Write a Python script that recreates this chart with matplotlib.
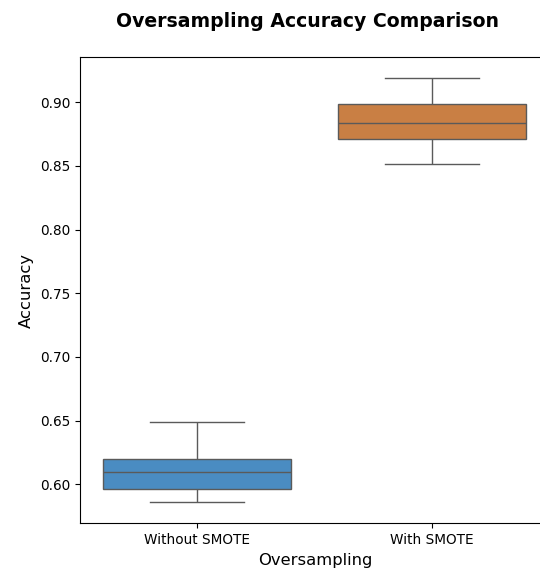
import pandas as pd
import seaborn as sns
from matplotlib import pyplot as plt

# five accuracy values per setting (min, q1, median, q3, max)
without_smote = [0.5859, 0.5961, 0.6094, 0.6196, 0.6486]
with_smote = [0.8514, 0.8710, 0.8835, 0.8984, 0.9188]
groups = ['Without SMOTE', 'With SMOTE']

df = pd.DataFrame({
    'Oversampling': [groups[0]] * len(without_smote) + [groups[1]] * len(with_smote),
    'Accuracy': without_smote + with_smote,
})

fig = plt.figure(figsize=(5.4, 5.72), dpi=100)
# the reference is cut off on the right, so the axes run past the figure edge
ax = fig.add_axes([0.148, 0.085, 0.870, 0.815])
sns.boxplot(data=df, x='Oversampling', y='Accuracy', hue='Oversampling',
            palette=['#4a8cc2', '#c97f44'], saturation=1, linecolor='#5a5a5a', ax=ax)
ax.set_title('Oversampling Accuracy Comparison', fontsize=13.6, fontweight='bold',
             pad=22, x=0.484)
ax.set_xlabel('Oversampling', fontsize=11.8)
ax.set_ylabel('Accuracy', fontsize=11.8)
ax.tick_params(labelsize=9.8)

fig.savefig('out.png', dpi=100)
